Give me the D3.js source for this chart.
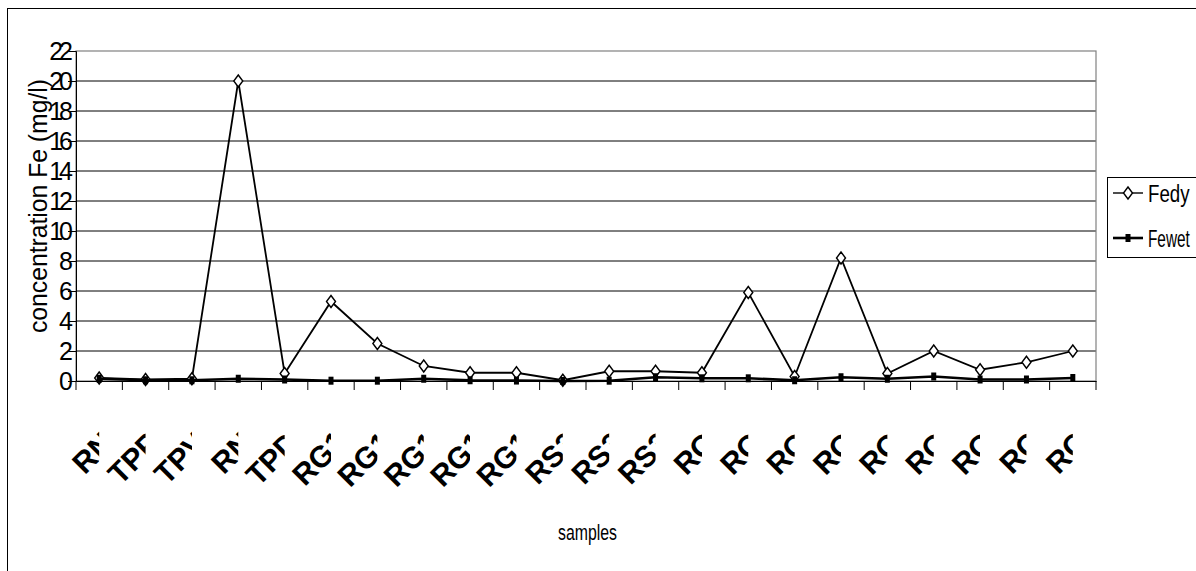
<!DOCTYPE html>
<html>
<head>
<meta charset="utf-8">
<script src="https://cdn.jsdelivr.net/npm/d3@7"></script>
<style>
  body { margin: 0; background: #fff; }
  text { font-family: "Liberation Sans", Arial, sans-serif; }
</style>
</head>
<body>
<script>
var width = 1196;
var height = 571;

// sample names (tails are hidden by the clipping, as in the original)
var categories = ["RN1", "TPP1", "TPV1", "RN2", "TPD1", "RG11", "RG12", "RG13", "RG14", "RG15",
  "RS31", "RS32", "RS33", "RG1", "RG2", "RG3", "RG4", "RG5", "RG6", "RG7", "RC1", "RC2"];
var fedy = [0.2, 0.1, 0.15, 20, 0.5, 5.3, 2.5, 1.0, 0.55, 0.55, 0.05, 0.65, 0.65, 0.55, 5.9, 0.3, 8.2, 0.5, 2.0, 0.75, 1.25, 2.0];
var fewet = [0.15, 0.05, 0.05, 0.15, 0.1, 0.02, 0.02, 0.15, 0.05, 0.03, 0.0, 0.02, 0.25, 0.18, 0.18, 0.05, 0.25, 0.15, 0.3, 0.1, 0.1, 0.2];
var yTicks = [0, 2, 4, 6, 8, 10, 12, 14, 16, 18, 20, 22];
var seriesNames = ["Fedy", "Fewet"];

var plot = {left: 76, right: 1096, top: 51, bottom: 381};

var svg = d3.select("body").append("svg")
    .attr("width", width)
    .attr("height", height);

// outer chart border (runs off the page at right and bottom)
svg.append("rect")
    .attr("x", 7.5).attr("y", 8.5)
    .attr("width", 1250).attr("height", 650)
    .attr("fill", "white")
    .attr("stroke", "black")
    .attr("stroke-width", 1);

var x = d3.scaleBand()
    .domain(categories)
    .range([plot.left, plot.right]);

var y = d3.scaleLinear()
    .domain([0, 22])
    .range([plot.bottom, plot.top]);

// gridlines
svg.selectAll(".grid")
    .data(yTicks.filter(function(d) { return d > 0 && d < 22; }))
    .enter().append("line")
    .attr("class", "grid")
    .attr("x1", plot.left).attr("x2", plot.right)
    .attr("y1", function(d) { return y(d); })
    .attr("y2", function(d) { return y(d); })
    .attr("stroke", "black")
    .attr("stroke-width", 1);

// plot area border (grey)
svg.append("rect")
    .attr("x", plot.left).attr("y", y(22))
    .attr("width", plot.right - plot.left)
    .attr("height", y(0) - y(22))
    .attr("fill", "none")
    .attr("stroke", "#808080")
    .attr("stroke-width", 1.2);

// y axis
var yAxis = d3.axisLeft(y)
    .tickValues(yTicks)
    .tickSize(8)
    .tickPadding(3);

var gy = svg.append("g")
    .attr("transform", "translate(" + plot.left + ",0)")
    .call(yAxis);
gy.select(".domain").attr("stroke", "black");
gy.selectAll(".tick line").attr("stroke", "black");
gy.selectAll(".tick text")
    .attr("font-size", 25)
    .attr("letter-spacing", "-4px")
    .attr("fill", "black")
    .attr("x", -7);

// x axis
var xAxis = d3.axisBottom(x)
    .tickSize(0)
    .tickFormat("");

var gx = svg.append("g")
    .attr("transform", "translate(0," + plot.bottom + ")")
    .call(xAxis);
gx.select(".domain").attr("stroke", "black");

// category boundary ticks
var bounds = categories.map(function(c) { return x(c); }).concat([x(categories[categories.length - 1]) + x.bandwidth()]);
svg.selectAll(".xtick")
    .data(bounds)
    .enter().append("line")
    .attr("class", "xtick")
    .attr("x1", function(d) { return d; })
    .attr("x2", function(d) { return d; })
    .attr("y1", plot.bottom)
    .attr("y2", plot.bottom + 9)
    .attr("stroke", "black");

// rotated, clipped category labels
var defs = svg.append("defs");
categories.forEach(function(c, i) {
  var cx = x(c) + x.bandwidth() / 2;
  defs.append("clipPath")
      .attr("id", "lab" + i)
    .append("rect")
      .attr("x", cx - 120).attr("y", plot.bottom + 10)
      .attr("width", 120).attr("height", 170);
});

svg.selectAll(".xlab")
    .data(categories)
    .enter().append("g")
    .attr("clip-path", function(d, i) { return "url(#lab" + i + ")"; })
  .append("text")
    .attr("class", "xlab")
    .attr("transform", function(d) {
      var cx = x(d) + x.bandwidth() / 2;
      return "translate(" + (cx + 28) + "," + 433 + ") rotate(-45)";
    })
    .attr("text-anchor", "end")
    .attr("font-size", 30)
    .attr("font-weight", "bold")
    .attr("fill", "black")
    .text(function(d) { return d; });

// axis titles
svg.append("text")
    .attr("transform", "translate(47,206) rotate(-90)")
    .attr("text-anchor", "middle")
    .attr("font-size", 26)
    .attr("textLength", 254)
    .attr("lengthAdjust", "spacingAndGlyphs")
    .text("concentration Fe (mg/l)");

svg.append("text")
    .attr("x", 558).attr("y", 540)
    .attr("font-size", 22)
    .attr("textLength", 59)
    .attr("lengthAdjust", "spacingAndGlyphs")
    .text("samples");

// series
var line = d3.line()
    .x(function(d, i) { return x(categories[i]) + x.bandwidth() / 2; })
    .y(function(d) { return y(d); });

svg.append("path")
    .datum(fedy)
    .attr("d", line)
    .attr("fill", "none")
    .attr("stroke", "black")
    .attr("stroke-width", 1.8);

function diamond(cx, cy) {
  return "M" + cx + "," + (cy - 6) + "L" + (cx + 4.5) + "," + cy + "L" + cx + "," + (cy + 6) + "L" + (cx - 4.5) + "," + cy + "Z";
}

svg.selectAll(".dmark")
    .data(fedy)
    .enter().append("path")
    .attr("class", "dmark")
    .attr("d", function(d, i) { return diamond(x(categories[i]) + x.bandwidth() / 2, y(d)); })
    .attr("fill", "white")
    .attr("stroke", "black")
    .attr("stroke-width", 1.4);

svg.append("path")
    .datum(fewet)
    .attr("d", line)
    .attr("fill", "none")
    .attr("stroke", "black")
    .attr("stroke-width", 2.6);

svg.selectAll(".smark")
    .data(fewet)
    .enter().append("rect")
    .attr("class", "smark")
    .attr("x", function(d, i) { return x(categories[i]) + x.bandwidth() / 2 - 2.5; })
    .attr("y", function(d) { return y(d) - 4; })
    .attr("width", 5).attr("height", 8)
    .attr("fill", "black");

// legend
var legend = svg.append("g");
legend.append("rect")
    .attr("x", 1107.5).attr("y", 177.5)
    .attr("width", 120).attr("height", 80)
    .attr("fill", "white")
    .attr("stroke", "black");

var legY = [193, 238];
var legW = [1.4, 2.6];
var legScale = [0.78, 0.64];
seriesNames.forEach(function(name, i) {
  legend.append("line")
      .attr("x1", 1113).attr("x2", 1143)
      .attr("y1", legY[i]).attr("y2", legY[i])
      .attr("stroke", "black")
      .attr("stroke-width", legW[i]);
  if (i === 0) {
    legend.append("path")
        .attr("d", diamond(1128, legY[i]))
        .attr("fill", "white")
        .attr("stroke", "black")
        .attr("stroke-width", 1.4);
  } else {
    legend.append("rect")
        .attr("x", 1125.5).attr("y", legY[i] - 4)
        .attr("width", 5).attr("height", 8)
        .attr("fill", "black");
  }
  legend.append("text")
      .attr("transform", "translate(1148," + (legY[i] + 9) + ") scale(" + legScale[i] + ",1)")
      .attr("font-size", 24)
      .text(name);
});
</script>
</body>
</html>
